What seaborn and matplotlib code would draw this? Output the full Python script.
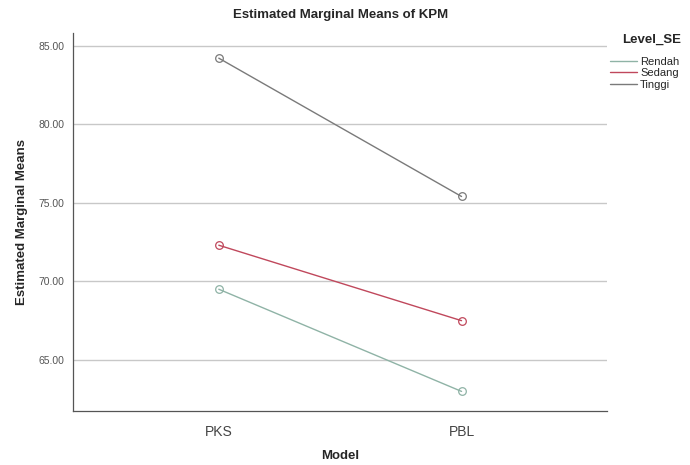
import matplotlib
matplotlib.use('Agg')
import matplotlib.pyplot as plt
import seaborn as sns
import pandas as pd
from matplotlib.lines import Line2D
from matplotlib.ticker import FormatStrFormatter

# values
models = ['PKS', 'PBL']
levels = ['Rendah', 'Sedang', 'Tinggi']
rendah = [69.5, 63.0]
sedang = [72.3, 67.5]
tinggi = [84.2, 75.4]
y_ticks = [65, 70, 75, 80, 85]

colors = {'Rendah': '#8fb3a6', 'Sedang': '#c0485c', 'Tinggi': '#7a7a7a'}

df = pd.DataFrame({
    'Model': models * 3,
    'Level_SE': [lv for lv in levels for _ in models],
    'KPM': rendah + sedang + tinggi,
})

sns.set_theme(style="white")
plt.rcParams['font.family'] = ['Liberation Sans', 'DejaVu Sans']

fig = plt.figure(figsize=(6.9, 4.65), dpi=100)
ax = fig.add_axes([0.106, 0.116, 0.774, 0.813])

sns.lineplot(data=df, x='Model', y='KPM', hue='Level_SE',
             hue_order=levels, palette=colors, marker='o',
             markersize=5.5, linewidth=1.0, legend=False, ax=ax)

for line in ax.lines:
    c = line.get_color()
    line.set_markerfacecolor('none')
    line.set_markeredgecolor(c)
    line.set_markeredgewidth(0.9)

ax.set_xlim(-0.6, 1.6)
ax.set_ylim(61.75, 85.8)
ax.set_yticks(y_ticks)
ax.yaxis.set_major_formatter(FormatStrFormatter('%.2f'))
ax.yaxis.grid(True, color='#c8c8c8', linewidth=1.0)
ax.set_axisbelow(True)

for s in ['top', 'right']:
    ax.spines[s].set_visible(False)
for s in ['left', 'bottom']:
    ax.spines[s].set_color('#555555')
    ax.spines[s].set_linewidth(0.9)

ax.tick_params(axis='y', labelsize=7.5, colors='#555555', length=3,
               direction='in', pad=6)
ax.tick_params(axis='x', labelsize=10, colors='#444444', length=0, pad=10)

ax.set_title('Estimated Marginal Means of KPM', fontsize=9.5,
             fontweight='bold', pad=11)
ax.set_xlabel('Model', fontsize=9.5, fontweight='bold', labelpad=8)
ax.set_ylabel('Estimated Marginal Means', fontsize=9.5,
              fontweight='bold', labelpad=8)

# legend title drawn on its own, entries below it
fig.text(622 / 690, 1 - 40 / 465, 'Level_SE', fontsize=9.5,
         fontweight='bold', va='center', ha='left')
handles = [Line2D([0], [0], color=colors[lv], linewidth=1.0) for lv in levels]
leg = fig.legend(handles, levels, loc='upper left',
                 bbox_to_anchor=(610 / 690, 1 - 57 / 465), frameon=False,
                 fontsize=8, handlelength=2.4, handletextpad=0.3,
                 labelspacing=0.12, borderaxespad=0.0, borderpad=0.0)

fig.savefig('out.png', dpi=100)
